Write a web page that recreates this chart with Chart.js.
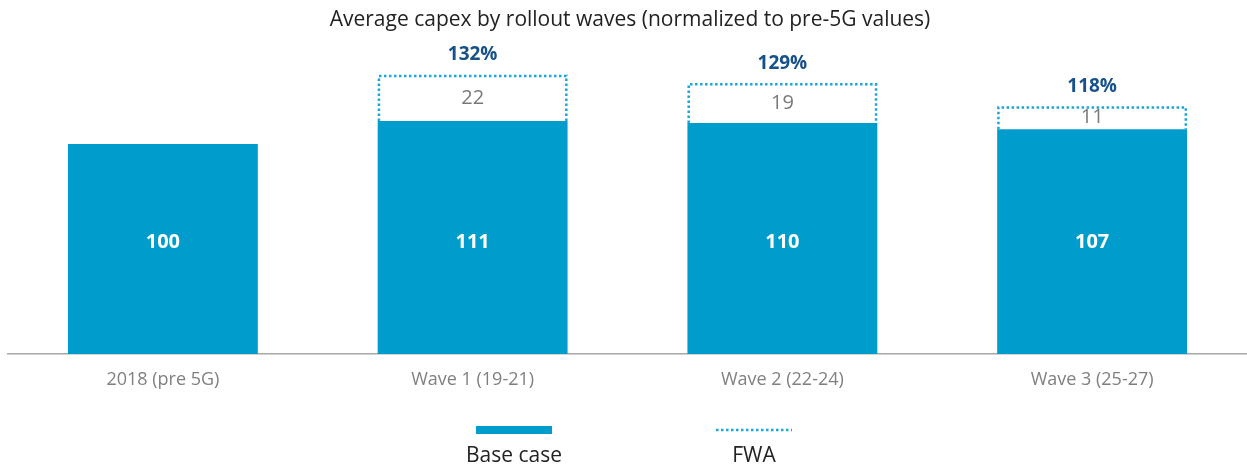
<!DOCTYPE html>
<html>
<head>
<meta charset="utf-8">
<script src="https://cdn.jsdelivr.net/npm/chart.js@4"></script>
<style>
html,body{margin:0;padding:0;background:#fff;}
#wrap{width:1247px;height:465px;position:relative;}
</style>
</head>
<body>
<div id="wrap"><canvas id="c" width="1247" height="465"></canvas></div>
<script>
const categories = ['2018 (pre 5G)', 'Wave 1 (19-21)', 'Wave 2 (22-24)', 'Wave 3 (25-27)'];
const baseCase = [100, 111, 110, 107];
const fwa = [null, 22, 19, 11];
const totalLabels = [null, '132%', '129%', '118%'];
const seriesNames = ['Base case', 'FWA'];
const titleText = 'Average capex by rollout waves (normalized to pre-5G values)';

const FONT = '"Open Sans", "DejaVu Sans", sans-serif';
const BLUE = '#009ccc';
const DOT = '#1aa6d8';
const DARK = '#17518a';

const overlay = {
  id: 'overlay',
  afterDatasetsDraw(chart) {
    const ctx = chart.ctx;
    const baseMeta = chart.getDatasetMeta(0);
    const fwaMeta = chart.getDatasetMeta(1);
    const y = chart.scales.y;
    ctx.save();
    fwaMeta.data.forEach((bar, i) => {
      if (fwa[i] == null) return;
      const p = bar.getProps(['x', 'y', 'base', 'width'], true);
      const l = p.x - p.width / 2 + 1.25, r = p.x + p.width / 2 - 1.25;
      ctx.beginPath();
      ctx.setLineDash([2.5, 2.5]);
      ctx.lineWidth = 2.5;
      ctx.strokeStyle = DOT;
      ctx.moveTo(l, p.base);
      ctx.lineTo(l, p.y + 1.25);
      ctx.lineTo(r, p.y + 1.25);
      ctx.lineTo(r, p.base);
      ctx.stroke();
      ctx.setLineDash([]);
      ctx.fillStyle = '#7a7a7a';
      ctx.font = '20px ' + FONT;
      ctx.textAlign = 'center';
      ctx.textBaseline = 'middle';
      ctx.fillText(String(fwa[i]), p.x, (p.y + p.base) / 2);
      ctx.fillStyle = DARK;
      ctx.font = 'bold 19px ' + FONT;
      ctx.fillText(totalLabels[i], p.x, p.y - 20);
    });
    baseMeta.data.forEach((bar, i) => {
      const p = bar.getProps(['x'], true);
      ctx.fillStyle = '#ffffff';
      ctx.font = 'bold 20px ' + FONT;
      ctx.textAlign = 'center';
      ctx.textBaseline = 'middle';
      ctx.fillText(String(baseCase[i]), p.x, y.getPixelForValue(53));
    });
    ctx.restore();
  },
  afterDraw(chart) {
    const ctx = chart.ctx;
    ctx.save();
    ctx.fillStyle = '#222';
    ctx.font = '21px ' + FONT;
    ctx.textAlign = 'center';
    ctx.textBaseline = 'middle';
    ctx.fillText(titleText, 630, 20);
    ctx.fillStyle = BLUE;
    ctx.fillRect(476, 426, 76, 8);
    ctx.beginPath();
    ctx.setLineDash([2.5, 2.5]);
    ctx.lineWidth = 2.5;
    ctx.strokeStyle = DOT;
    ctx.moveTo(716, 430);
    ctx.lineTo(792, 430);
    ctx.stroke();
    ctx.setLineDash([]);
    ctx.fillStyle = '#222';
    ctx.font = '21px ' + FONT;
    ctx.textBaseline = 'alphabetic';
    ctx.fillText(seriesNames[0], 514, 462);
    ctx.fillText(seriesNames[1], 754, 462);
    ctx.restore();
  }
};

new Chart(document.getElementById('c'), {
  type: 'bar',
  data: {
    labels: categories,
    datasets: [
      { label: seriesNames[0], data: baseCase, backgroundColor: BLUE, borderWidth: 0,
        barPercentage: 0.613, categoryPercentage: 1 },
      { label: seriesNames[1], data: fwa, backgroundColor: 'rgba(0,0,0,0)', borderWidth: 0,
        barPercentage: 0.613, categoryPercentage: 1 }
    ]
  },
  options: {
    responsive: false,
    animation: false,
    layout: { padding: { top: 39, left: 8, right: 0, bottom: 71 } },
    plugins: { legend: { display: false }, title: { display: false }, tooltip: { enabled: false } },
    scales: {
      x: {
        stacked: true,
        grid: { display: false, drawTicks: false },
        border: { display: true, color: '#a8a8a8', width: 1.5 },
        ticks: { color: '#808080', font: { family: FONT, size: 18 }, padding: 15 },
        afterFit(scale) { scale.height = 40; }
      },
      y: {
        stacked: true,
        display: false,
        min: 0, max: 150
      }
    }
  },
  plugins: [overlay]
});
</script>
</body>
</html>
